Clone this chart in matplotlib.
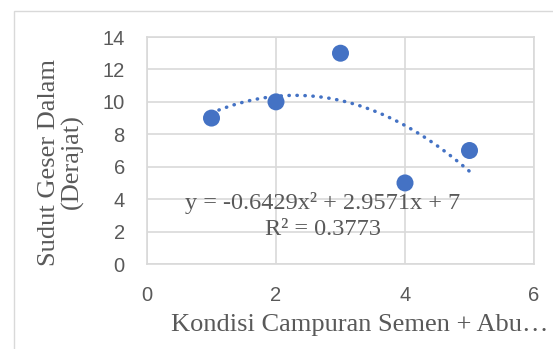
import numpy as np
import matplotlib.pyplot as plt
from matplotlib.patches import Rectangle

x = [1, 2, 3, 4, 5]
y = [9, 10, 13, 5, 7]
x_ticks = [0, 2, 4, 6]
y_ticks = [0, 2, 4, 6, 8, 10, 12, 14]
persamaan = 'y = -0.6429x² + 2.9571x + 7'
r2 = 'R² = 0.3773'

biru = '#4472C4'
abu = '#D9D9D9'
teks = '#595959'

fig = plt.figure(figsize=(5.53, 3.49), dpi=100)
fig.patches.append(Rectangle((13.5 / 553, -0.1), 1.2, 1.1 - 11.5 / 349,
                             transform=fig.transFigure, fill=False,
                             edgecolor=abu, linewidth=1))
ax = fig.add_axes([147 / 553, 1 - 264 / 349, 387 / 553, 227 / 349])

ax.set_xlim(0, 6)
ax.set_ylim(0, 14)
ax.set_xticks(x_ticks)
ax.set_yticks(y_ticks)
ax.grid(True, color=abu, linewidth=1.2)
ax.set_axisbelow(True)
for s in ax.spines.values():
    s.set_color(abu)
    s.set_linewidth(1.2)
ax.tick_params(length=0, labelsize=14.5, labelcolor=teks, labelfontfamily='Liberation Sans')
ax.tick_params(axis='x', pad=16)
ax.tick_params(axis='y', pad=16)

# trendline polinomial orde 2
k = np.polyfit(x, y, 2)
xs = np.linspace(min(x), max(x), 200)
ax.plot(xs, np.polyval(k, xs), color=biru, linewidth=2.5,
        linestyle=(0, (0.1, 2.2)), dash_capstyle='round', zorder=2)

ax.scatter(x, y, s=150, color=biru, zorder=3, edgecolors='none')

serif = {'family': 'Liberation Serif', 'color': teks}
ax.text(2.73, 3.76, persamaan, ha='center', va='center', fontsize=17.5, fontdict=serif)
ax.text(2.73, 2.1, r2, ha='center', va='center', fontsize=17.5, fontdict=serif)

fig.text(360 / 553, 1 - 325 / 349, 'Kondisi Campuran Semen + Abu…',
         ha='center', va='center', fontsize=19, fontdict=serif)
fig.text(61 / 553, 1 - 162 / 349, 'Sudut Geser Dalam\n(Derajat)',
         ha='center', va='center', rotation=90, fontsize=19, fontdict=serif,
         linespacing=1.0)

fig.savefig('out.png', dpi=100)
